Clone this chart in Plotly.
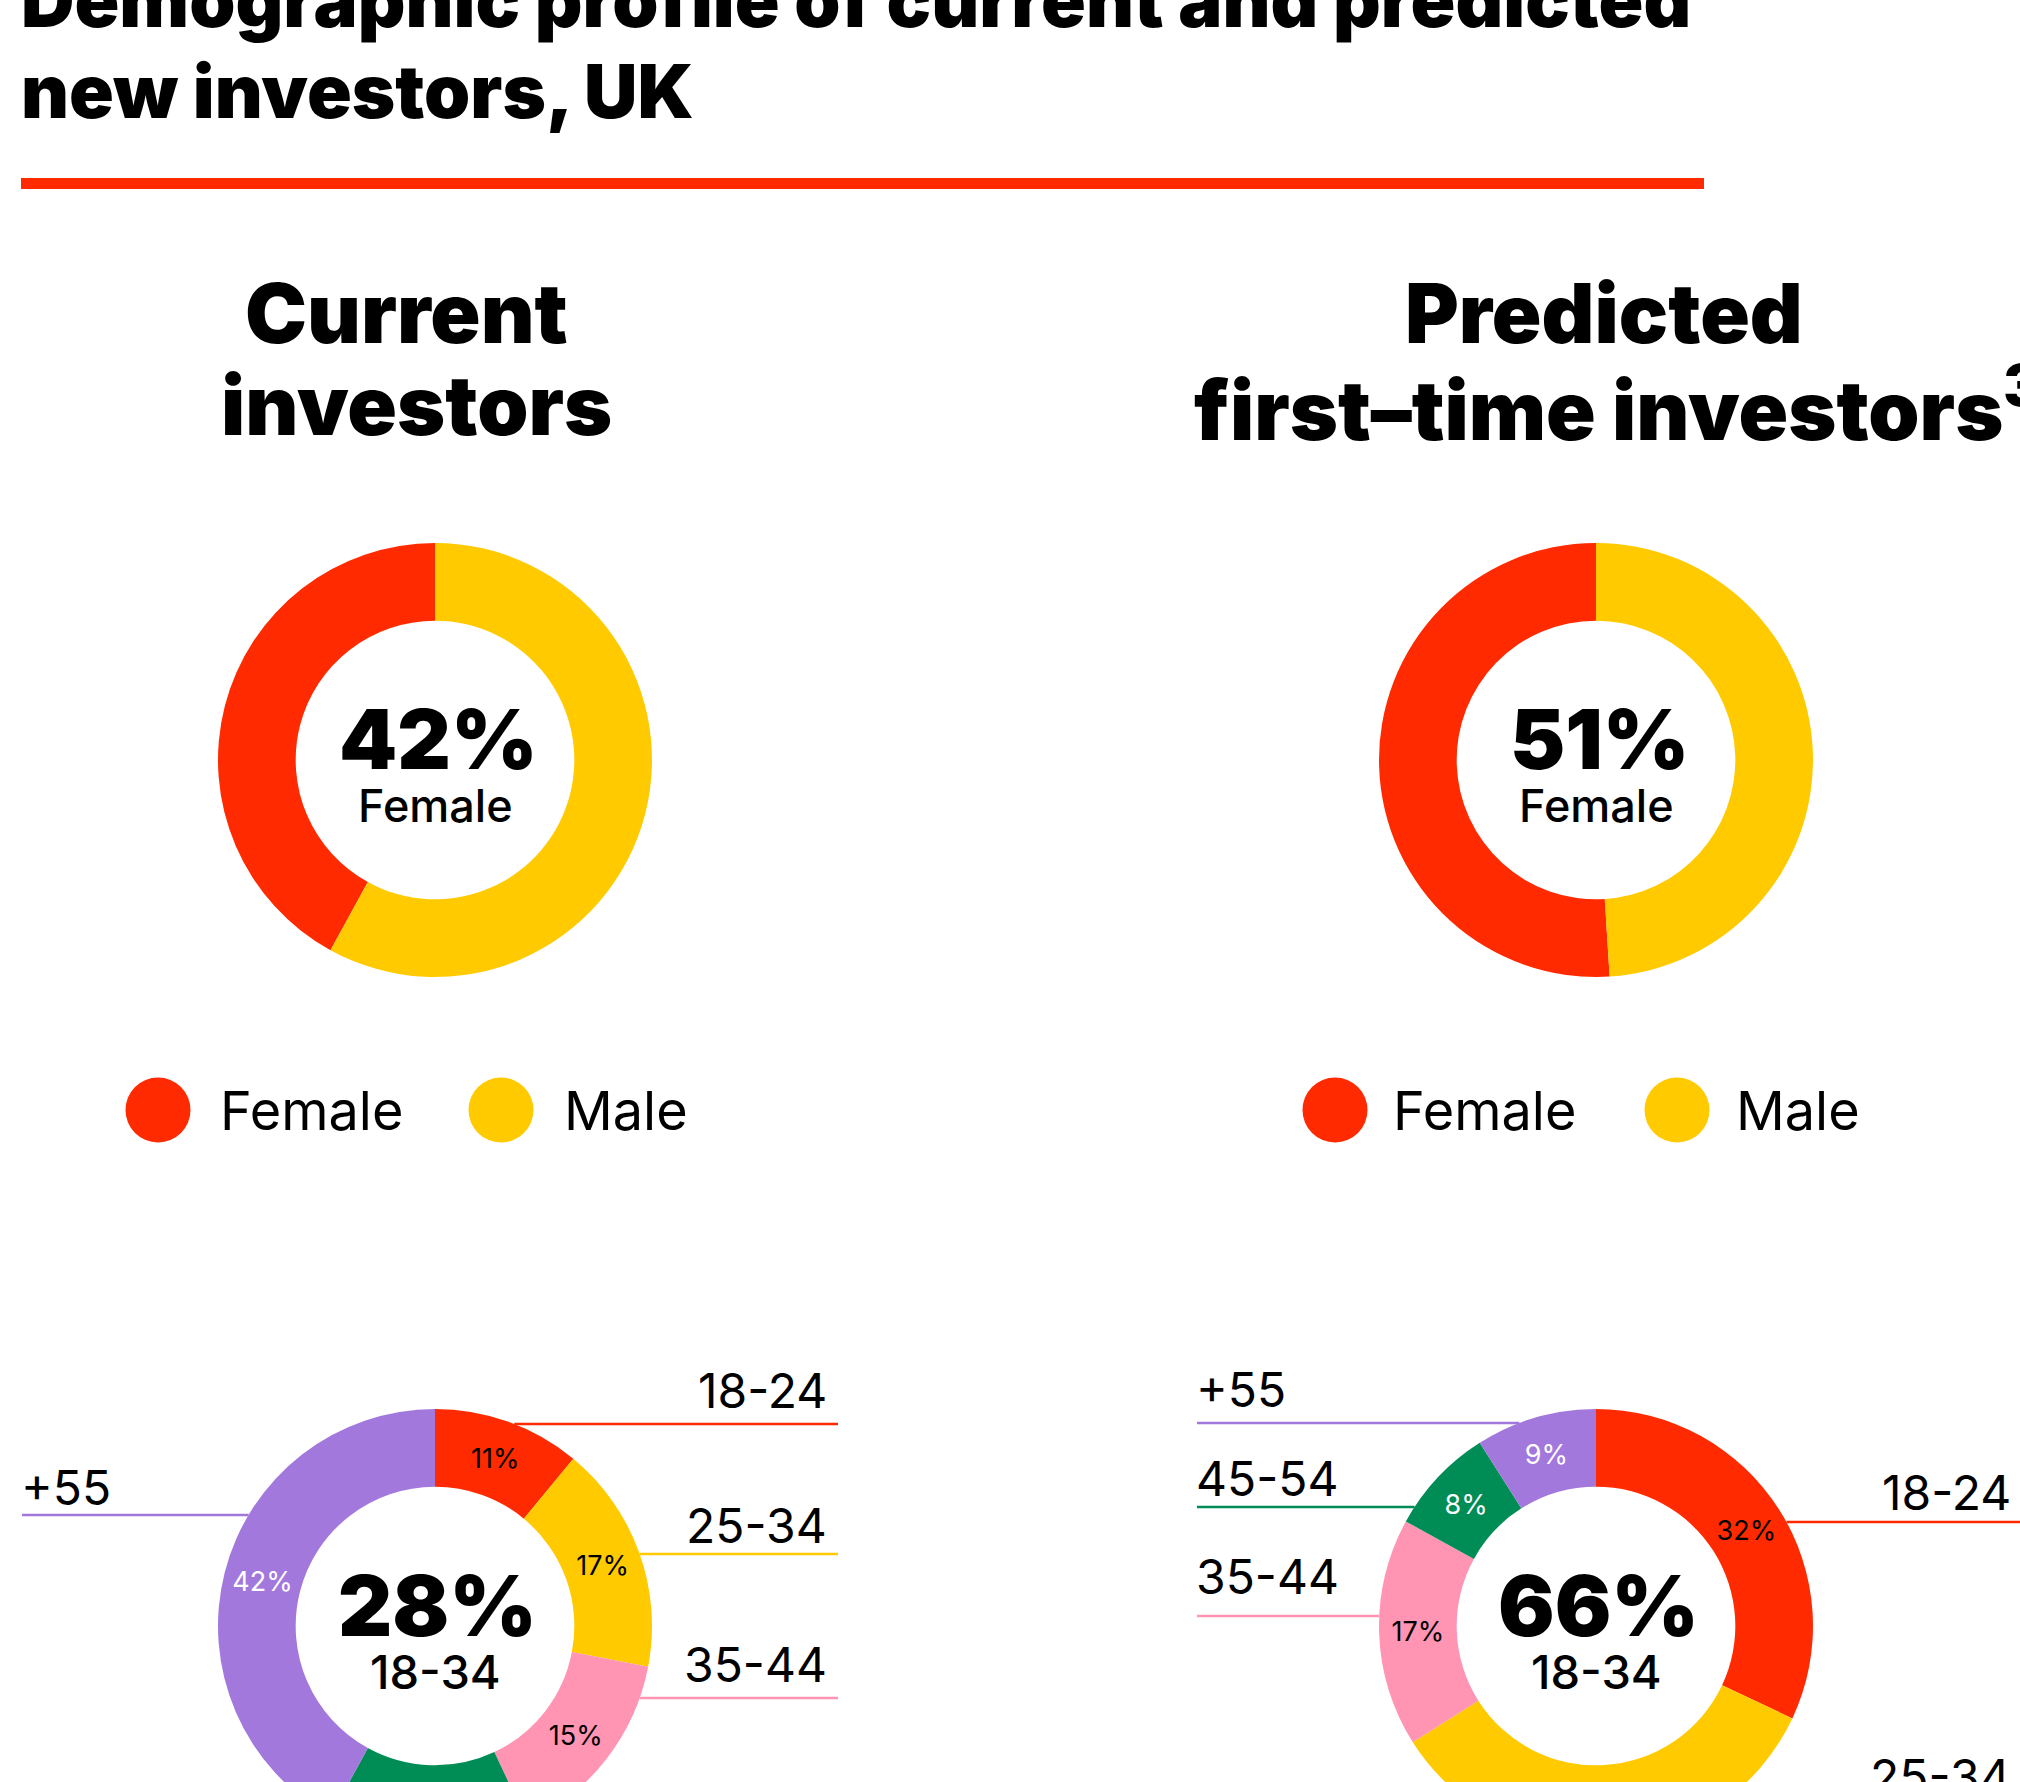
import math
import plotly.graph_objects as go

# ---------------- data ----------------
title_lines = ["Demographic profile of current and predicted", "new investors, UK"]
panel_titles = [["Current", "investors"], ["Predicted", "first–time investors<sup>3</sup>"]]

gender_labels = ["Female", "Male"]
current_gender = [42, 58]
predicted_gender = [51, 49]

age_labels = ["18-24", "25-34", "35-44", "45-54", "+55"]
current_age = [11, 17, 15, 15, 42]
predicted_age = [32, 34, 17, 8, 9]
young_group_label = "18-34"

# ---------------- style / layout ----------------
W, H = 2020, 1900          # figure is taller than the 1782 window; the page clips it
VIEW_H = 1782
RED, YELLOW, PINK, GREEN, PURPLE = "#FF2A00", "#FFCA00", "#FF94B3", "#008C55", "#A378DD"
GENDER_COLORS = [RED, YELLOW]
AGE_COLORS = [RED, YELLOW, PINK, GREEN, PURPLE]
AGE_TEXT = ["#000000", "#000000", "#000000", "#FFFFFF", "#FFFFFF"]
HEAD = "Inter"
BODY = "Inter"
SLICE_FONT = 27

R = 217
HOLE = 0.642
CX = [435, 1596]
TOP_CY, BOT_CY = 760, 1626


def px(x):
    return x / W


def py(y):
    return 1 - y / H


def domain(cx, cy, r=R):
    return dict(x=[px(cx - r), px(cx + r)], y=[py(cy + r), py(cy - r)])


fig = go.Figure()

# gender donuts: female runs counter-clockwise from 12 o'clock
for cx, vals in zip(CX, [current_gender, predicted_gender]):
    fig.add_trace(go.Pie(
        labels=gender_labels, values=vals, hole=HOLE, sort=False,
        direction="clockwise", rotation=-360 * vals[0] / sum(vals),
        textinfo="none",
        marker=dict(colors=GENDER_COLORS, line=dict(width=0)),
        hoverinfo="skip", showlegend=False, domain=domain(cx, TOP_CY),
    ))

# age donuts
for cx, vals in zip(CX, [current_age, predicted_age]):
    fig.add_trace(go.Pie(
        labels=age_labels, values=vals, hole=HOLE, sort=False,
        direction="clockwise", rotation=0,
        texttemplate="%{value}%", textposition="inside",
        insidetextorientation="horizontal",
        textfont=dict(family=BODY, size=SLICE_FONT, color=AGE_TEXT),
        marker=dict(colors=AGE_COLORS, line=dict(width=0)),
        hoverinfo="skip", showlegend=False, domain=domain(cx, BOT_CY),
    ))

annotations = []
shapes = []


def ann(text, x, y, size, weight=400, xanchor="center", color="#000000", family=BODY):
    annotations.append(dict(
        text=text, x=px(x), y=py(y), xref="paper", yref="paper",
        xanchor=xanchor, yanchor="middle", showarrow=False,
        align=xanchor if xanchor != "center" else "center",
        font=dict(family=family, size=size, weight=weight, color=color),
    ))


# main title + rule
ann(title_lines[0], 19, 0, 74, 900, "left", family=HEAD)
ann(title_lines[1], 19, 91, 74, 900, "left", family=HEAD)
shapes.append(dict(type="rect", xref="paper", yref="paper",
                   x0=px(21), x1=px(1704), y0=py(189), y1=py(178),
                   fillcolor=RED, line=dict(width=0)))

# panel titles
ann(panel_titles[0][0], 406, 313, 83, 900, family=HEAD)
ann(panel_titles[0][1], 416, 405, 82, 900, family=HEAD)
ann(panel_titles[1][0], 1604, 313, 82, 900, family=HEAD)
ann(panel_titles[1][1], 1192, 405, 82, 900, "left", family=HEAD)

# centre texts of gender donuts
for cx, vals in zip(CX, [current_gender, predicted_gender]):
    ann(f"{vals[0]}%", cx + 3, 739, 83, 900, family=HEAD)
    ann(gender_labels[0], cx, 805, 45, 500)

# centre texts of age donuts
for cx, vals in zip(CX, [current_age, predicted_age]):
    ann(f"{vals[0] + vals[1]}%", cx + 2, 1605, 84, 900, family=HEAD)
    ann(young_group_label, cx, 1671, 47, 500)

# gender legends: (circle centre x, text left x) per item
legend_pos = [[(158, 221), (501, 565)], [(1335, 1394), (1677, 1737)]]
LEG_Y, LEG_R = 1110, 32.5
for items in legend_pos:
    for (ccx, tx), lab, col in zip(items, gender_labels, GENDER_COLORS):
        shapes.append(dict(type="circle", xref="paper", yref="paper",
                           x0=px(ccx - LEG_R), x1=px(ccx + LEG_R),
                           y0=py(LEG_Y + LEG_R), y1=py(LEG_Y - LEG_R),
                           fillcolor=col, line=dict(width=0)))
        ann(lab, tx - 3, LEG_Y, 54, 400, "left")

# age call-outs: (age index, line y, label y, side)
callouts = [
    [(0, 1424, 1390, "right"), (1, 1554, 1525, "right"),
     (2, 1698, 1664, "right"), (4, 1515, 1487, "left")],
    [(4, 1423, 1389, "left"), (3, 1507, 1478, "left"),
     (2, 1616, 1576, "left"), (0, 1522, 1492, "right"),
     (1, 1804, 1776, "right")],
]
line_ends = [{"right": 838, "left": 22}, {"right": 2030, "left": 1197}]
text_x = [{"right": 829, "left": 19}, {"right": 2013, "left": 1194}]

for cx, group, ends, tx in zip(CX, callouts, line_ends, text_x):
    for idx, ly, ty, side in group:
        dx = math.sqrt(max(R ** 2 - (ly - BOT_CY) ** 2, 0))
        x_edge = cx + dx if side == "right" else cx - dx
        shapes.append(dict(type="line", xref="paper", yref="paper",
                           x0=px(x_edge), x1=px(ends[side]), y0=py(ly), y1=py(ly),
                           line=dict(color=AGE_COLORS[idx], width=2.5), layer="below"))
        ann(age_labels[idx], tx[side], ty, 48, 400,
            "left" if side == "left" else "right")

fig.update_layout(
    width=W, height=H,
    margin=dict(l=0, r=0, t=0, b=0),
    paper_bgcolor="#FFFFFF", plot_bgcolor="#FFFFFF",
    annotations=annotations, shapes=shapes,
    showlegend=False,
    uniformtext=dict(minsize=SLICE_FONT, mode="show"),
)

post = (
    "var gd=document.getElementById('{plot_id}');"
    "document.documentElement.style.overflow='hidden';"
    "document.body.style.margin='0';"
    "document.body.style.overflow='hidden';"
    f"gd.style.height='{VIEW_H}px';"
    "gd.style.overflow='hidden';"
)

fig.write_html("out.html", post_script=post, config={"displayModeBar": False})
